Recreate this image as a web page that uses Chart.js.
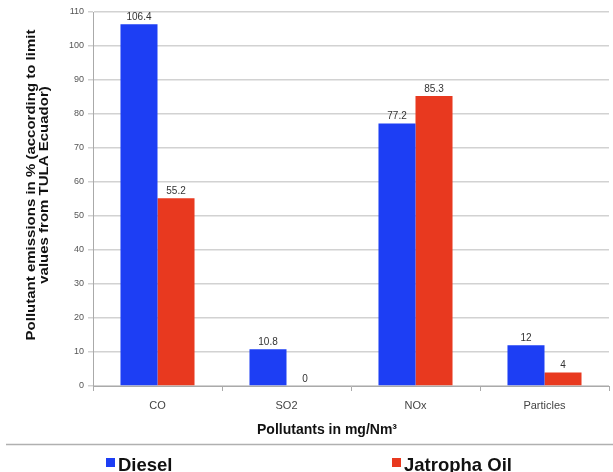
<!DOCTYPE html>
<html>
<head>
<meta charset="utf-8">
<script src="https://cdn.jsdelivr.net/npm/chart.js@4.4.1/dist/chart.umd.min.js"></script>
<style>
  html, body { margin: 0; padding: 0; background: #fff; }
  #wrap { position: relative; width: 613px; height: 472px; }
</style>
</head>
<body>
<div id="wrap"><canvas id="chart" width="613" height="472"></canvas></div>
<script>
const categories = ["CO", "SO2", "NOx", "Particles"];
const diesel = [106.4, 10.8, 77.2, 12];
const jatropha = [55.2, 0, 85.3, 4];
const seriesNames = ["Diesel", "Jatropha Oil"];
const yTitle = ["Pollutant emissions in % (according to limit", "values from TULA Ecuador)"];
const xTitle = "Pollutants in mg/Nm³";
const COLORS = ["#1d3ef4", "#e8391f"];

const FONT = "'Liberation Sans', Arial, sans-serif";

// value labels above each bar
const valueLabels = {
    id: "valueLabels",
    afterDatasetsDraw(chart) {
        const ctx = chart.ctx;
        ctx.save();
        ctx.font = "10px " + FONT;
        ctx.fillStyle = "#333";
        ctx.textAlign = "center";
        ctx.textBaseline = "bottom";
        chart.data.datasets.forEach((ds, i) => {
            chart.getDatasetMeta(i).data.forEach((bar, j) => {
                ctx.fillText(String(ds.data[j]), bar.x, bar.y - 2);
            });
        });
        ctx.restore();
    }
};

// axis titles, separator line and legend
const extras = {
    id: "extras",
    afterDraw(chart) {
        const ctx = chart.ctx;
        ctx.save();

        ctx.fillStyle = "#111";
        ctx.textAlign = "center";
        ctx.textBaseline = "middle";
        ctx.font = "bold 15px " + FONT;
        [[32, yTitle[0]], [45, yTitle[1]]].forEach(([x, line]) => {
            ctx.save();
            ctx.translate(x, 185);
            ctx.rotate(-Math.PI / 2);
            ctx.scale(1, 0.8);
            ctx.fillText(line, 0, 0);
            ctx.restore();
        });

        ctx.font = "bold 14px " + FONT;
        ctx.fillText(xTitle, 327, 430);

        ctx.strokeStyle = "#b0b0b0";
        ctx.lineWidth = 1.5;
        ctx.beginPath();
        ctx.moveTo(6, 444.5);
        ctx.lineTo(613, 444.5);
        ctx.stroke();

        const items = [[106, 0], [392, 1]];
        ctx.font = "bold 18.5px " + FONT;
        ctx.textBaseline = "alphabetic";
        ctx.textAlign = "left";
        items.forEach(([x, i]) => {
            ctx.fillStyle = COLORS[i];
            ctx.fillRect(x, 458, 9, 9);
            ctx.fillStyle = "#111";
            ctx.fillText(seriesNames[i], x + 12, 471);
        });
        ctx.restore();
    }
};

new Chart(document.getElementById("chart"), {
    type: "bar",
    data: {
        labels: categories,
        datasets: [
            { label: seriesNames[0], data: diesel, backgroundColor: COLORS[0] },
            { label: seriesNames[1], data: jatropha, backgroundColor: COLORS[1] }
        ]
    },
    options: {
        responsive: false,
        animation: false,
        events: [],
        layout: { padding: { left: 0, right: 4, top: 12, bottom: 32 } },
        plugins: { legend: { display: false }, tooltip: { enabled: false } },
        datasets: { bar: { categoryPercentage: 0.574, barPercentage: 1.0 } },
        scales: {
            x: {
                grid: { offset: true, drawOnChartArea: false, tickLength: 5, color: "#aaa", lineWidth: 1 },
                border: { color: "#aaa", width: 1 },
                ticks: { color: "#444", font: { family: FONT, size: 11 }, padding: 8 },
                afterFit(scale) { scale.height = 54; }
            },
            y: {
                min: 0,
                max: 110,
                ticks: { stepSize: 10, color: "#555", font: { family: FONT, size: 9 }, padding: 4 },
                grid: { color: "#d2d2d2", lineWidth: 1.5, tickLength: 5 },
                border: { color: "#aaa", width: 1 },
                afterFit(scale) { scale.width = 93; }
            }
        }
    },
    plugins: [valueLabels, extras]
});
</script>
</body>
</html>
